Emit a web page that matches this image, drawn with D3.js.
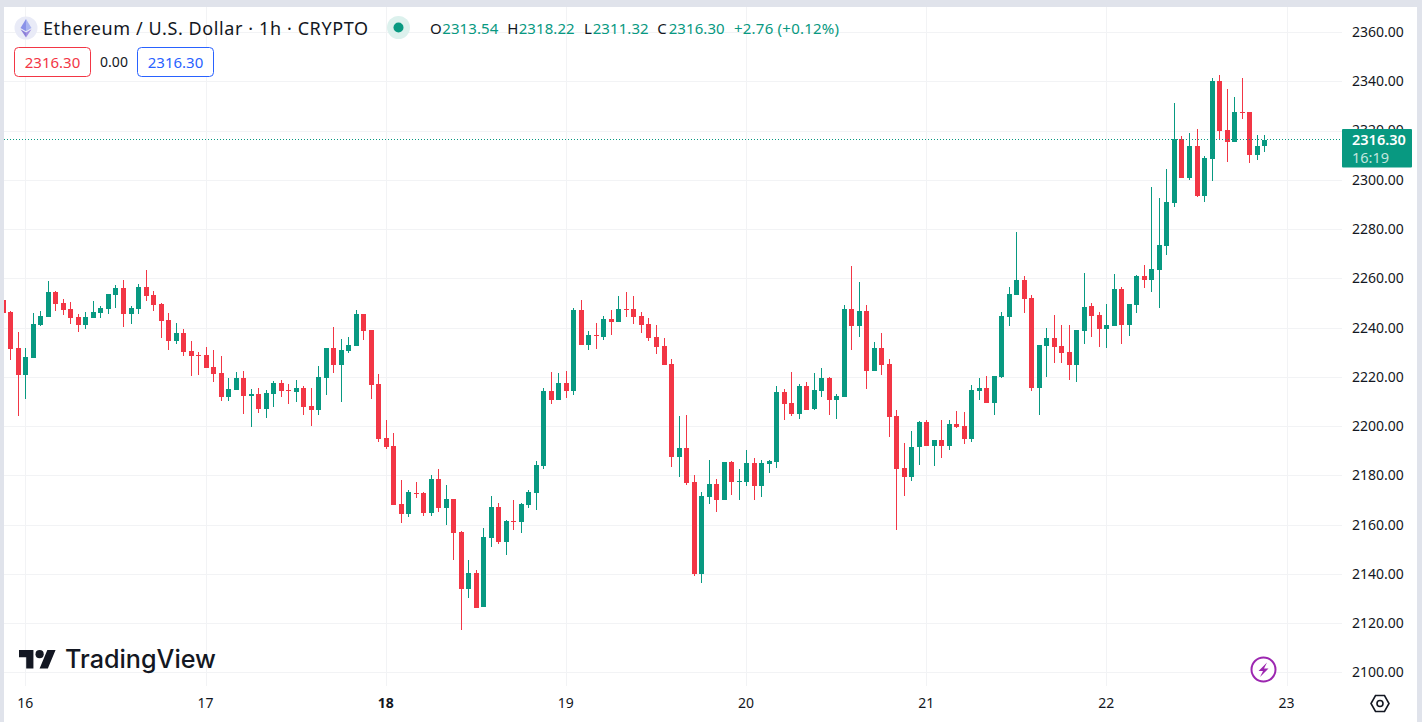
<!DOCTYPE html>
<html><head><meta charset="utf-8">
<script src="https://cdn.jsdelivr.net/npm/d3@7"></script>
<style>html,body{margin:0;padding:0;background:#fff;overflow:hidden}svg{display:block}text{font-family:"Noto Sans",sans-serif}</style>
</head><body><svg id="c" width="1422" height="722"></svg>
<script>
const firstHour = -3;
const opens = [2251.2,2246.3,2231.7,2220.7,2227.6,2241.0,2244.3,2254.4,2250.0,2247.5,2244.3,2241.0,2243.9,2245.9,2247.5,2253.2,2256.1,2245.5,2247.5,2256.5,2253.2,2249.6,2243.1,2234.5,2237.8,2230.5,2228.9,2228.9,2224.0,2221.5,2211.8,2214.6,
2219.5,2212.2,2213.0,2206.9,2213.0,2217.5,2214.7,2213.8,2215.5,2208.2,2206.5,2219.5,2231.7,2224.8,2230.5,2232.5,2245.5,2239.0,2217.1,2195.2,2191.9,2168.4,2164.3,2172.8,2172.8,2164.7,2178.5,2166.7,2170.4,2157.0,2133.8,2140.3,
2126.5,2154.5,2167.1,2152.9,2161.4,2161.0,2167.9,2172.8,2183.8,2214.2,2210.6,2217.5,2214.2,2247.1,2232.9,2237.0,2236.2,2243.5,2242.3,2247.5,2247.5,2244.7,2241.4,2236.2,2232.5,2225.2,2187.4,2191.1,2177.3,2139.9,2171.2,
2176.5,2170.0,2185.4,2177.3,2177.3,2185.0,2175.6,2184.6,2185.4,2213.8,2209.4,2204.9,2216.3,2206.9,2214.2,2219.5,2210.6,2211.8,2247.5,2240.6,2246.7,2222.4,2231.7,2225.2,2204.1,2183.0,2179.3,2191.5,2201.6,2191.9,
2194.3,2191.9,2200.8,2200.0,2194.7,2214.2,2215.5,2209.4,2219.9,2244.3,2253.2,2259.3,2252.0,2215.5,2232.5,2235.8,2232.5,2230.1,2224.8,2238.6,2248.8,2245.1,2239.4,2240.6,2255.7,2241.0,2249.2,2260.9,2259.3,2263.4,2273.1,2290.6,2316.4,2300.7,2313.7,2293.4,2308.5,2340.1,2320.2,2315.4,2327.5,2327.5,2310.1,2313.54];
const highs = [2251.2,2246.7,2238.2,2231.7,2245.9,2246.7,2258.9,2254.8,2251.6,2250.4,2245.5,2246.3,2250.8,2248.8,2253.6,2257.3,2259.3,2248.8,2257.7,2263.4,2254.8,2250.0,2245.9,2241.8,2239.4,2234.5,2230.1,2232.1,2230.9,2228.4,2219.5,2221.9,
2222.4,2215.0,2215.5,2214.7,2218.3,2218.7,2217.1,2218.7,2216.3,2215.5,2224.4,2231.7,2240.2,2235.4,2236.2,2247.1,2245.5,2239.0,2221.1,2202.5,2197.2,2178.1,2174.0,2177.3,2173.2,2180.1,2182.6,2176.1,2170.4,2157.4,2145.6,2141.6,
2158.6,2171.6,2168.7,2161.8,2170.0,2168.7,2174.0,2185.8,2215.5,2221.9,2221.5,2222.3,2247.9,2251.2,2238.6,2241.9,2244.7,2247.1,2252.8,2254.4,2252.8,2246.3,2243.9,2241.0,2235.7,2227.2,2204.1,2204.5,2180.1,2173.2,2186.2,
2178.5,2185.4,2185.8,2182.6,2190.3,2187.0,2186.2,2186.2,2216.3,2215.0,2221.9,2217.1,2217.9,2221.5,2223.6,2219.9,2213.0,2249.2,2265.0,2258.5,2249.2,2234.1,2237.8,2227.2,2206.5,2193.1,2198.0,2202.0,2202.5,2194.3,
2202.5,2202.5,2206.1,2205.7,2216.7,2219.5,2220.3,2220.3,2246.3,2256.5,2278.8,2260.9,2253.2,2232.9,2239.8,2245.1,2241.0,2241.0,2239.0,2262.2,2250.0,2246.3,2249.6,2261.8,2256.5,2249.6,2261.4,2265.4,2297.1,2292.6,2304.4,2331.2,2317.8,2319.0,2320.6,2309.7,2341.3,2342.6,2336.9,2333.6,2341.3,2327.5,2318.2,2318.22];
const lows = [2245.9,2226.8,2204.1,2211.0,2227.6,2240.6,2244.3,2246.7,2245.1,2241.4,2238.2,2239.4,2243.9,2243.9,2245.5,2247.9,2240.2,2241.4,2245.5,2250.8,2246.7,2235.8,2230.9,2233.3,2228.4,2220.3,2220.7,2223.6,2217.9,2210.2,2210.2,2214.6,
2204.9,2199.6,2205.3,2203.3,2207.7,2211.8,2209.0,2209.8,2204.5,2200.0,2204.5,2212.6,2221.5,2209.8,2229.7,2232.5,2234.9,2211.0,2193.5,2190.7,2167.9,2160.6,2163.1,2170.8,2163.5,2163.5,2165.1,2159.8,2145.6,2117.2,2130.2,2126.1,
2126.5,2150.9,2152.1,2147.6,2157.8,2156.6,2166.7,2165.9,2182.6,2208.9,2210.6,2211.4,2212.6,2232.9,2230.9,2231.3,2234.9,2237.0,2242.3,2244.3,2241.4,2237.8,2234.5,2229.3,2224.8,2183.4,2179.3,2176.1,2139.1,2136.3,2168.3,
2165.1,2170.0,2172.0,2170.0,2175.6,2170.0,2171.2,2180.9,2182.9,2202.5,2204.1,2202.9,2206.5,2206.5,2211.8,2204.5,2202.9,2211.8,2230.9,2236.2,2215.0,2222.4,2220.7,2195.5,2157.8,2171.6,2177.7,2184.2,2191.9,2183.8,
2187.0,2190.3,2199.2,2192.7,2193.5,2210.6,2209.4,2204.5,2219.5,2240.6,2253.2,2245.9,2214.2,2204.5,2219.9,2225.6,2225.6,2218.7,2217.9,2233.3,2236.2,2232.1,2231.7,2240.6,2233.3,2236.6,2245.9,2256.1,2254.4,2248.0,2269.5,2288.9,2300.7,2299.9,2293.0,2291.0,2299.5,2316.6,2307.2,2315.4,2324.7,2306.8,2308.0,2311.32];
const closes = [2245.9,2231.3,2220.7,2228.0,2241.4,2244.7,2254.4,2249.6,2247.1,2243.9,2241.0,2244.3,2246.3,2247.9,2253.6,2256.1,2245.5,2247.9,2256.5,2252.8,2249.2,2242.7,2234.5,2237.8,2230.1,2228.4,2228.5,2223.6,2221.1,2211.8,2215.0,2219.5,
2212.2,2213.0,2206.9,2213.4,2217.5,2214.2,2214.2,2215.5,2207.7,2206.5,2219.9,2231.7,2224.8,2230.9,2232.9,2245.5,2238.6,2216.7,2194.8,2191.5,2167.9,2164.3,2173.2,2172.4,2164.7,2178.5,2166.7,2170.4,2156.6,2133.8,2140.3,2126.1,
2154.9,2167.1,2152.9,2161.4,2161.0,2168.3,2173.2,2184.2,2214.2,2210.6,2217.5,2214.2,2247.1,2232.9,2237.0,2236.6,2243.5,2242.3,2247.5,2247.1,2244.3,2241.0,2235.7,2232.1,2224.8,2187.4,2191.1,2176.9,2139.9,2171.6,2176.5,
2170.0,2185.4,2177.3,2177.7,2185.0,2175.6,2185.0,2185.8,2213.8,2209.0,2204.9,2216.3,2206.5,2214.6,2219.5,2210.6,2212.2,2247.5,2240.6,2246.7,2222.4,2231.7,2224.8,2203.7,2182.6,2179.3,2191.5,2201.6,2191.9,2194.3,
2191.9,2200.8,2199.6,2194.7,2214.6,2215.5,2209.4,2220.3,2244.7,2253.6,2259.3,2251.6,2215.5,2232.9,2235.8,2232.1,2229.7,2224.8,2239.0,2248.4,2244.7,2239.4,2241.0,2255.7,2241.0,2249.6,2260.9,2259.3,2263.8,2273.5,2291.0,2316.4,2300.7,2313.7,2293.4,2308.9,2340.1,2319.8,2315.4,2327.5,2327.1,2310.1,2313.7,2316.30];
const dayLabels = ["16","17","18","19","20","21","22","23"];
const dayHours = [0,24,48,72,96,120,144,168];
const priceTicks = [2100,2120,2140,2160,2180,2200,2220,2240,2260,2280,2300,2320,2340,2360];
const lastPrice = 2316.30;
const countdown = "16:19";
const titleText = "Ethereum / U.S. Dollar · 1h · CRYPTO";
const ohlcLabels = ["O","H","L","C"];
const ohlcValues = ["2313.54","2318.22","2311.32","2316.30"];
const changeText = "+2.76 (+0.12%)";
const spreadText = "0.00";

const UP="#089981", DOWN="#f23645", GRID="#f2f3f5", INK="#131722", FRAME="#e0e3eb";
const svg=d3.select("#c");
const x=d3.scaleLinear().domain([0,168]).range([25.4,1286.6]);
const y=d3.scaleLinear().domain([2100,2360]).range([672.3,32]);
const candles=opens.map((o,k)=>({h:firstHour+k,o,hi:highs[k],lo:lows[k],c:closes[k]}));

svg.append("rect").attr("width",1422).attr("height",722).attr("fill","#fff");
const grid=svg.append("g").attr("shape-rendering","crispEdges");
grid.selectAll("rect.h").data(priceTicks).join("rect").attr("class","h")
  .attr("x",4).attr("width",1338).attr("y",d=>Math.round(y(d))).attr("height",1).attr("fill",GRID);
grid.selectAll("rect.v").data(dayHours).join("rect").attr("class","v")
  .attr("x",d=>Math.round(x(d))).attr("width",1).attr("y",7).attr("height",679).attr("fill",GRID);

// candles
const cg=svg.append("g").attr("shape-rendering","crispEdges");
const col=d=>d.c>=d.o?UP:DOWN;
cg.selectAll("rect.w").data(candles).join("rect").attr("class","w")
  .attr("x",d=>Math.round(x(d.h))).attr("width",1)
  .attr("y",d=>Math.round(y(d.hi))).attr("height",d=>Math.max(1,Math.round(y(d.lo))-Math.round(y(d.hi))))
  .attr("fill",col);
cg.selectAll("rect.b").data(candles).join("rect").attr("class","b")
  .attr("x",d=>Math.round(x(d.h))-2).attr("width",5)
  .attr("y",d=>Math.round(y(Math.max(d.o,d.c)))).attr("height",d=>Math.max(1,Math.round(y(Math.min(d.o,d.c)))-Math.round(y(Math.max(d.o,d.c)))))
  .attr("fill",col);

// last price line
svg.append("line").attr("x1",4).attr("x2",1342).attr("y1",Math.round(y(lastPrice))-0.5).attr("y2",Math.round(y(lastPrice))-0.5)
  .attr("stroke",UP).attr("stroke-width",1).attr("stroke-dasharray","1 2");

// axes
const ya=svg.append("g").attr("transform","translate(1342,0)")
  .call(d3.axisRight(y).tickValues(priceTicks).tickSize(0).tickPadding(10).tickFormat(d3.format(".2f")));
ya.select(".domain").remove();
ya.selectAll("text").attr("fill",INK).style("font-size","14px").style("font-family",'"Noto Sans",sans-serif');
const xa=svg.append("g").attr("transform","translate(-0.6,696)")
  .call(d3.axisBottom(x).tickValues(dayHours).tickSize(0).tickPadding(0).tickFormat((d,k)=>dayLabels[k]));
xa.select(".domain").remove();
xa.selectAll("text").attr("fill",INK).style("font-size","14px").style("font-family",'"Noto Sans",sans-serif')
  .style("font-weight",(d,k)=>dayLabels[k]==="18"?700:400).attr("dy","0.75em").attr("y",1);

// price label
const ly=y(lastPrice);
svg.append("rect").attr("x",1342).attr("y",ly-10.5).attr("width",70).attr("height",38.5).attr("rx",1).attr("fill",UP);
svg.append("text").attr("x",1352).attr("y",ly+5.5).attr("fill","#fff").style("font-size","14.5px").style("font-weight",600).text(d3.format(".2f")(lastPrice));
svg.append("text").attr("x",1352).attr("y",ly+23).attr("fill","#c3e6df").style("font-size","14.5px").text(countdown);

// frame
svg.append("g").attr("fill",FRAME).attr("shape-rendering","crispEdges").selectAll("rect")
  .data([[0,0,1422,7],[0,0,4,722],[1417,0,5,722]]).join("rect")
  .attr("x",d=>d[0]).attr("y",d=>d[1]).attr("width",d=>d[2]).attr("height",d=>d[3]);

// header
const icon=svg.append("g").attr("transform","translate(26,28)");
icon.append("circle").attr("r",11.5).attr("fill","#e9ebf7");
icon.append("path").attr("d","M0,-9L-5.5,0L0,3.2Z").attr("fill","#8a92e8");
icon.append("path").attr("d","M0,-9L5.5,0L0,3.2Z").attr("fill","#a9b4f0");
icon.append("path").attr("d","M-5.5,1.2L0,4.4L0,9.5Z").attr("fill","#8a7fd8");
icon.append("path").attr("d","M5.5,1.2L0,4.4L0,9.5Z").attr("fill","#9f8fe0");
svg.append("text").attr("x",43).attr("y",34.5).attr("fill",INK).style("font-size","18px")
  .attr("textLength",325).attr("lengthAdjust","spacing").text(titleText);
svg.append("circle").attr("cx",398.5).attr("cy",27.5).attr("r",11.5).attr("fill","#dcf1ed");
svg.append("circle").attr("cx",398.5).attr("cy",27.5).attr("r",5).attr("fill",UP);
const ohlcLabelX=[430,507.3,584,657.3], ohlcValueX=[442.3,518.7,592.7,668.7];
ohlcLabels.forEach((t,k)=>{
  svg.append("text").attr("x",ohlcLabelX[k]).attr("y",33.5).attr("fill",INK).style("font-size","15px").text(t);
  svg.append("text").attr("x",ohlcValueX[k]).attr("y",33.5).attr("fill",UP).style("font-size","15px").attr("textLength",56).text(ohlcValues[k]);
});
svg.append("text").attr("x",734).attr("y",33.5).attr("fill",UP).style("font-size","15px").attr("textLength",105).text(changeText);

// order pills
[[14.5,DOWN],[137.5,"#2962ff"]].forEach(([px,c])=>{
  svg.append("rect").attr("x",px).attr("y",47.5).attr("width",76).attr("height",29).attr("rx",4).attr("fill","#fff").attr("stroke",c);
  svg.append("text").attr("x",px+38).attr("y",67.5).attr("text-anchor","middle").attr("fill",c).style("font-size","15px").text(d3.format(".2f")(lastPrice));
});
svg.append("text").attr("x",114).attr("y",67).attr("text-anchor","middle").attr("fill",INK).style("font-size","14px").text(spreadText);

// logo
const logo=svg.append("g");
logo.append("path").attr("transform","translate(19,645.9) scale(1.03)").attr("fill",INK)
  .attr("d","M14 22H7V11H0V4h14v18zM28 22h-8l7.5-18h8L28 22z");
logo.append("circle").attr("cx",19+20*1.03).attr("cy",645.9+8*1.03).attr("r",4.1).attr("fill",INK);
svg.append("text").attr("x",65).attr("y",668).attr("fill",INK).style("font-family","Inter,sans-serif").style("font-size","25px").style("font-weight",500)
  .attr("textLength",151).attr("lengthAdjust","spacingAndGlyphs").text("TradingView");

// lightning badge
svg.append("circle").attr("cx",1263.5).attr("cy",669.5).attr("r",12).attr("fill","#fff").attr("stroke","#9c27b0").attr("stroke-width",2);
svg.append("path").attr("d","M1267,662.5L1258.5,671H1263L1260,677L1268.5,668.5H1264Z").attr("fill","#9c27b0");

// settings hexagon
svg.append("path").attr("d","M1375.5,695.5H1384.5L1389,703.5L1384.5,711.5H1375.5L1371,703.5Z").attr("fill","none").attr("stroke",INK).attr("stroke-width",1.6);
svg.append("circle").attr("cx",1380).attr("cy",703.5).attr("r",3).attr("fill","none").attr("stroke",INK).attr("stroke-width",1.6);
</script></body></html>
